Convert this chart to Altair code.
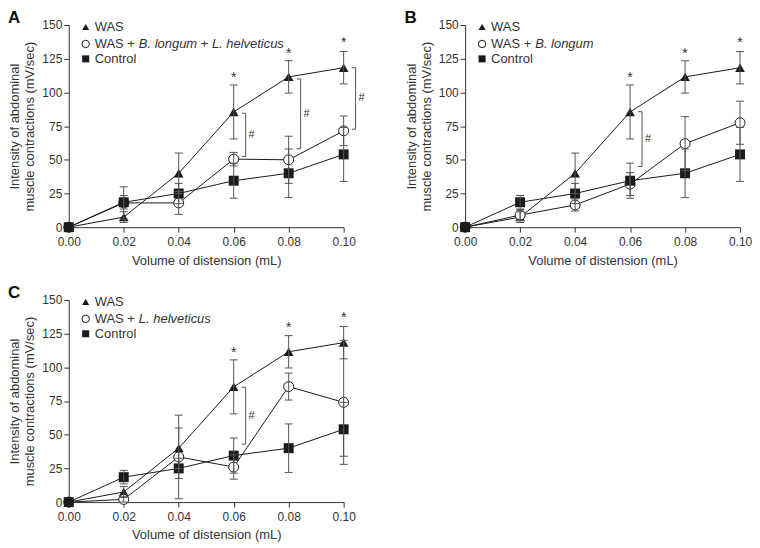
import altair as alt
import pandas as pd

# ---------------- data ----------------
x_vals = [0.00, 0.02, 0.04, 0.06, 0.08, 0.10]
y_ticks = [0, 25, 50, 75, 100, 125, 150]

was_mean = [0, 7.5, 40, 85.5, 111.5, 118.3]
was_err = [0, 4, 15, 20, 12, 12]
ctrl_mean = [0, 18.5, 25, 34.5, 40, 54]
ctrl_err = [0, 5, 7.5, 13, 18, 20]

a_mean = [0, 18, 18, 50.5, 50, 71.5]
a_err = [0, 12, 8.5, 5, 17.5, 11]
b_mean = [0, 9, 16.5, 32, 62, 77.5]
b_err = [0, 4, 4.5, 8.5, 20, 16]
c_mean = [0, 2, 33.5, 26, 85.7, 74]
c_err = [0, 2, 31, 9, 10, 46]

star_x = [0.06, 0.08, 0.10]
star_y = [113, 131, 138.5]

a_br_x = [0.06, 0.08, 0.10]
a_br_top = [84.5, 110, 118.3]
a_br_bot = [52.5, 58.2, 72.7]
b_br_x = [0.06]
b_br_top = [85.7]
b_br_bot = [45]
c_br_x = [0.06]
c_br_top = [85.2]
c_br_bot = [43]

# ---------------- style ----------------
W, H = 276, 203
FONT = "Liberation Sans"
INK = "#1a1a1a"
GRAY = "#555555"
TXT = "#333333"
BR_OFF = 12 / W * 0.1     # bracket offset right of the point (12 px)
BR_TICK = 4 / W * 0.1     # bracket end tick length (4 px)
HASH_OFF = 6 / W * 0.1    # '#' offset right of bracket

xscale = alt.Scale(domain=[0, 0.1], nice=False, zero=False, padding=0)
yscale = alt.Scale(domain=[0, 150], nice=False, padding=0)
xaxis = alt.Axis(values=x_vals, format=".2f", title="Volume of distension (mL)",
                 titlePadding=7, labelFlush=False, labelPadding=4)
yaxis = alt.Axis(values=y_ticks, title=["Intensity of abdominal", "muscle contractions (mV/sec)"],
                 titlePadding=5, titleLineHeight=15, labelFlush=False, labelPadding=2)


def X(f):
    return alt.X(f, type="quantitative", scale=xscale, axis=xaxis)


def Y(f):
    return alt.Y(f, type="quantitative", scale=yscale, axis=yaxis)


def one():
    return alt.Chart(pd.DataFrame({"k": [0]}))


def panel(letter, p_mean, p_err, p_parts, br_x, br_top, br_bot):
    rows = []
    for grp, m, e in [("WAS", was_mean, was_err), ("probe", p_mean, p_err),
                      ("Control", ctrl_mean, ctrl_err)]:
        for xv, mv, ev in zip(x_vals, m, e):
            rows.append(dict(group=grp, x=xv, y=mv, lo=mv - ev, hi=mv + ev, err=ev))
    df = pd.DataFrame(rows)
    base = alt.Chart(df)

    lines = base.mark_line(color=INK, strokeWidth=1).encode(
        x=X("x"), y=Y("y"), detail="group:N")

    was_pts = base.transform_filter("datum.group == 'WAS'").mark_point(
        shape="triangle-up", filled=True, color=INK, size=95, opacity=1).encode(x=X("x"), y=Y("y"))
    probe_pts = base.transform_filter("datum.group == 'probe'").mark_point(
        shape="circle", filled=True, fill="white", stroke=INK, strokeWidth=1, size=100,
        opacity=1).encode(x=X("x"), y=Y("y"))
    ctrl_pts = base.transform_filter("datum.group == 'Control'").mark_point(
        shape="square", filled=True, color=INK, size=100, opacity=1).encode(x=X("x"), y=Y("y"))

    eb = base.transform_filter("datum.err > 0")
    eb_line = eb.mark_rule(color=GRAY, strokeWidth=1).encode(x=X("x"), y=Y("lo"), y2="hi")
    eb_top = eb.mark_tick(orient="horizontal", size=8, thickness=1, color=GRAY, opacity=1).encode(
        x=X("x"), y=Y("hi"))
    eb_bot = eb.mark_tick(orient="horizontal", size=8, thickness=1, color=GRAY, opacity=1).encode(
        x=X("x"), y=Y("lo"))

    sdf = pd.DataFrame({"sx": star_x, "sy": star_y})
    stars = alt.Chart(sdf).mark_text(text="*", font=FONT, fontSize=14, color=TXT,
                                     baseline="middle", dy=3).encode(x=X("sx"), y=Y("sy"))

    bdf = pd.DataFrame({"bx0": br_x, "top": br_top, "bot": br_bot})
    bb = alt.Chart(bdf).transform_calculate(
        bx=f"datum.bx0 + {BR_OFF}", bt=f"datum.bx0 + {BR_OFF - BR_TICK}",
        hx=f"datum.bx0 + {BR_OFF + HASH_OFF}", mid="(datum.top + datum.bot) / 2")
    br_v = bb.mark_rule(color=GRAY, strokeWidth=1).encode(x=X("bx:Q"), y=Y("top:Q"), y2="bot:Q")
    br_t = bb.mark_rule(color=GRAY, strokeWidth=1).encode(x=X("bt:Q"), x2="bx:Q", y=Y("top:Q"))
    br_b = bb.mark_rule(color=GRAY, strokeWidth=1).encode(x=X("bt:Q"), x2="bx:Q", y=Y("bot:Q"))
    br_h = bb.mark_text(text="#", font=FONT, fontSize=11, color=TXT, align="center",
                        baseline="middle").encode(x=X("hx:Q"), y=Y("mid:Q"))

    # legend (manual, to allow italic species names)
    LX_SYM, LX_TXT = 17, 26
    LY = [2, 19, 34]
    leg = [
        one().mark_point(shape="triangle-up", filled=True, color=INK, size=50, opacity=1).encode(
            x=alt.value(LX_SYM), y=alt.value(LY[0])),
        one().mark_point(shape="circle", filled=False, color=INK, strokeWidth=1, size=55,
                         opacity=1).encode(x=alt.value(LX_SYM), y=alt.value(LY[1])),
        one().mark_point(shape="square", filled=True, color=INK, size=50, opacity=1).encode(
            x=alt.value(LX_SYM), y=alt.value(LY[2])),
        one().mark_text(text="WAS", font=FONT, fontSize=13, color=TXT, align="left",
                        baseline="middle").encode(x=alt.value(LX_TXT), y=alt.value(LY[0])),
        one().mark_text(text="Control", font=FONT, fontSize=13, color=TXT, align="left",
                        baseline="middle").encode(x=alt.value(LX_TXT), y=alt.value(LY[2])),
    ]
    px = LX_TXT
    for txt, wid, ital in p_parts:
        leg.append(one().mark_text(text=txt, font=FONT, fontSize=13, color=TXT, align="left",
                                   baseline="middle", fontStyle="italic" if ital else "normal"
                                   ).encode(x=alt.value(px), y=alt.value(LY[1])))
        px += wid

    label = one().mark_text(text=letter, font=FONT, fontSize=17, fontWeight="bold", color="#111",
                            align="left", baseline="top").encode(
        x=alt.value(-61), y=alt.value(-15))

    return alt.layer(lines, was_pts, probe_pts, ctrl_pts, eb_line, eb_top, eb_bot, stars,
                     br_v, br_t, br_b, br_h, label, *leg).properties(width=W, height=H)


# legend fragments: (text, advance in px at 13px, italic); spaces folded into advances
SP = 3.6
A_parts = [("WAS +", 44.4, False), ("B. longum", 58.5 + SP, True), ("+", 14.8 - SP, False),
           ("L. helveticus", 72.3, True)]
B_parts = [("WAS +", 44.4, False), ("B. longum", 58.5, True)]
C_parts = [("WAS +", 44.4, False), ("L. helveticus", 72.3, True)]

pA = panel("A", a_mean, a_err, A_parts, a_br_x, a_br_top, a_br_bot)
pB = panel("B", b_mean, b_err, B_parts, b_br_x, b_br_top, b_br_bot)
pC = panel("C", c_mean, c_err, C_parts, c_br_x, c_br_top, c_br_bot)

chart = alt.concat(pA, pB, pC, columns=2, spacing={"row": 73, "column": 122},
                   bounds="flush").properties(
    padding=0, background="white"
).configure_view(strokeWidth=0).configure_axis(
    labelFont=FONT, titleFont=FONT, labelFontSize=12, titleFontSize=13,
    labelColor=TXT, titleColor=TXT, domainColor="#333333", tickColor="#333333",
    tickSize=5, grid=False, titleFontWeight="normal"
)

chart.save("out.html", embed_options={"renderer": "svg", "actions": False})
